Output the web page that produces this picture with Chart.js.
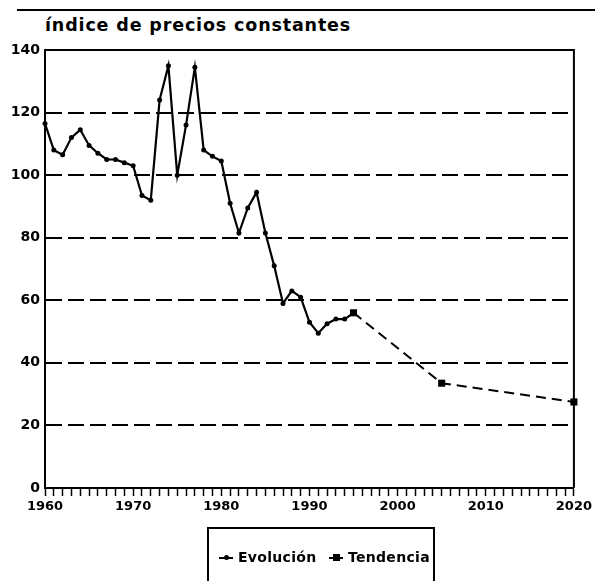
<!DOCTYPE html>
<html>
<head>
<meta charset="utf-8">
<script src="https://cdn.jsdelivr.net/npm/chart.js@4"></script>
<style>
  body { margin: 0; background: #fff; }
  #wrap { position: relative; width: 595px; height: 581px; overflow: hidden; font-family: "DejaVu Sans", sans-serif; font-weight: bold; color: #000; }
  #rule { position: absolute; left: 17px; right: 0; top: 9px; height: 2px; background: #000; }
  #title { position: absolute; left: 45px; top: 15px; font-size: 17.5px; letter-spacing: 0.85px; }
  #chart { position: absolute; left: 0; top: 0; }
  #legend { position: absolute; left: 207px; top: 527px; width: 228px; height: 70px; border: 2px solid #000; border-bottom: none; box-sizing: border-box; font-size: 14px; letter-spacing: 0.3px; }
  .item { position: absolute; top: 20px; white-space: nowrap; }
  .sym { display: inline-block; position: relative; width: 14px; height: 10px; margin-right: 5px; vertical-align: -1px; }
  .sym .ln { position: absolute; left: 0; right: 0; top: 4px; height: 2px; background: #000; }
  .sym .dot { position: absolute; left: 5px; top: 2px; width: 5px; height: 5px; border-radius: 50%; background: #000; }
  .sym .sq { position: absolute; left: 4px; top: 1px; width: 7px; height: 7px; background: #000; }
</style>
</head>
<body>
<div id="wrap">
  <div id="rule"></div>
  <div id="title">índice de precios constantes</div>
  <canvas id="chart" width="595" height="581"></canvas>
  <div id="legend">
    <div class="item" style="left:10px"><span class="sym"><span class="ln"></span><span class="dot"></span></span>Evolución</div>
    <div class="item" style="left:120px"><span class="sym"><span class="ln"></span><span class="sq"></span></span>Tendencia</div>
  </div>
</div>
<script>
// Evolución (datos anuales)
const evoYears = [1960, 1961, 1962, 1963, 1964, 1965, 1966, 1967, 1968, 1969,
                  1970, 1971, 1972, 1973, 1974, 1975, 1976, 1977, 1978, 1979,
                  1980, 1981, 1982, 1983, 1984, 1985, 1986, 1987, 1988, 1989,
                  1990, 1991, 1992, 1993, 1994, 1995];
const evoValues = [116.5, 108, 106.5, 112, 114.5, 109.5, 107, 105, 105, 104,
                   103, 93.5, 92, 124, 135, 100, 116, 134.5, 108, 106,
                   104.5, 91, 81.5, 89.5, 94.5, 81.5, 71, 59, 63, 61,
                   53, 49.5, 52.5, 54, 54, 56];

// Tendencia
const trendYears = [1995, 2005, 2020];
const trendValues = [56, 33.5, 27.5];

const yTicks = [0, 20, 40, 60, 80, 100, 120, 140];
const xLabels = [1960, 1970, 1980, 1990, 2000, 2010, 2020];

const tickFont = { family: "DejaVu Sans", size: 13, weight: "bold" };

// marco superior y derecho del area del grafico
const frame = {
  id: "frame",
  beforeDatasetsDraw(chart) {
    const a = chart.chartArea;
    const c = chart.ctx;
    c.save();
    c.strokeStyle = "#000";
    c.lineWidth = 2;
    c.beginPath();
    c.moveTo(a.left, a.top);
    c.lineTo(a.right, a.top);
    c.lineTo(a.right, a.bottom);
    c.stroke();
    c.restore();
  }
};

const ctx = document.getElementById("chart").getContext("2d");
new Chart(ctx, {
  type: "line",
  data: {
    datasets: [{
      label: "Evolución",
      data: evoYears.map((x, i) => ({ x: x, y: evoValues[i] })),
      borderColor: "#000",
      backgroundColor: "#000",
      borderWidth: 2.2,
      pointRadius: 2.5,
      pointBorderWidth: 0,
      tension: 0,
      clip: false
    }, {
      label: "Tendencia",
      data: trendYears.map((x, i) => ({ x: x, y: trendValues[i] })),
      borderColor: "#000",
      backgroundColor: "#000",
      borderWidth: 2,
      borderDash: [10, 6],
      pointStyle: "rect",
      pointRadius: 5,
      pointBorderWidth: 0,
      tension: 0,
      clip: false
    }]
  },
  options: {
    responsive: false,
    animation: false,
    layout: { padding: { top: 50, right: 21, left: 0, bottom: 0 } },
    plugins: {
      legend: { display: false },
      tooltip: { enabled: false }
    },
    scales: {
      x: {
        type: "linear",
        min: 1960,
        max: 2020,
        ticks: {
          stepSize: 1,
          autoSkip: false,
          maxRotation: 0,
          padding: 3,
          color: "#000",
          font: tickFont,
          callback: v => xLabels.includes(v) ? String(v) : ""
        },
        grid: { drawOnChartArea: false, drawTicks: true, tickLength: 8, tickWidth: 1.5, tickColor: "#000" },
        border: { color: "#000", width: 2 },
        afterFit: s => { s.height = 93; }
      },
      y: {
        min: 0,
        max: 140,
        afterBuildTicks: s => { s.ticks = yTicks.map(v => ({ value: v })); },
        ticks: { padding: 5, color: "#000", font: { family: "DejaVu Sans", size: 14, weight: "bold" } },
        grid: {
          drawTicks: false,
          lineWidth: 2,
          color: c => (c.tick && (c.tick.value === 0 || c.tick.value === 140)) ? "rgba(0,0,0,0)" : "#000"
        },
        border: { color: "#000", width: 2, dash: [16, 6] },
        afterFit: s => { s.width = 45; }
      }
    }
  },
  plugins: [frame]
});
</script>
</body>
</html>
